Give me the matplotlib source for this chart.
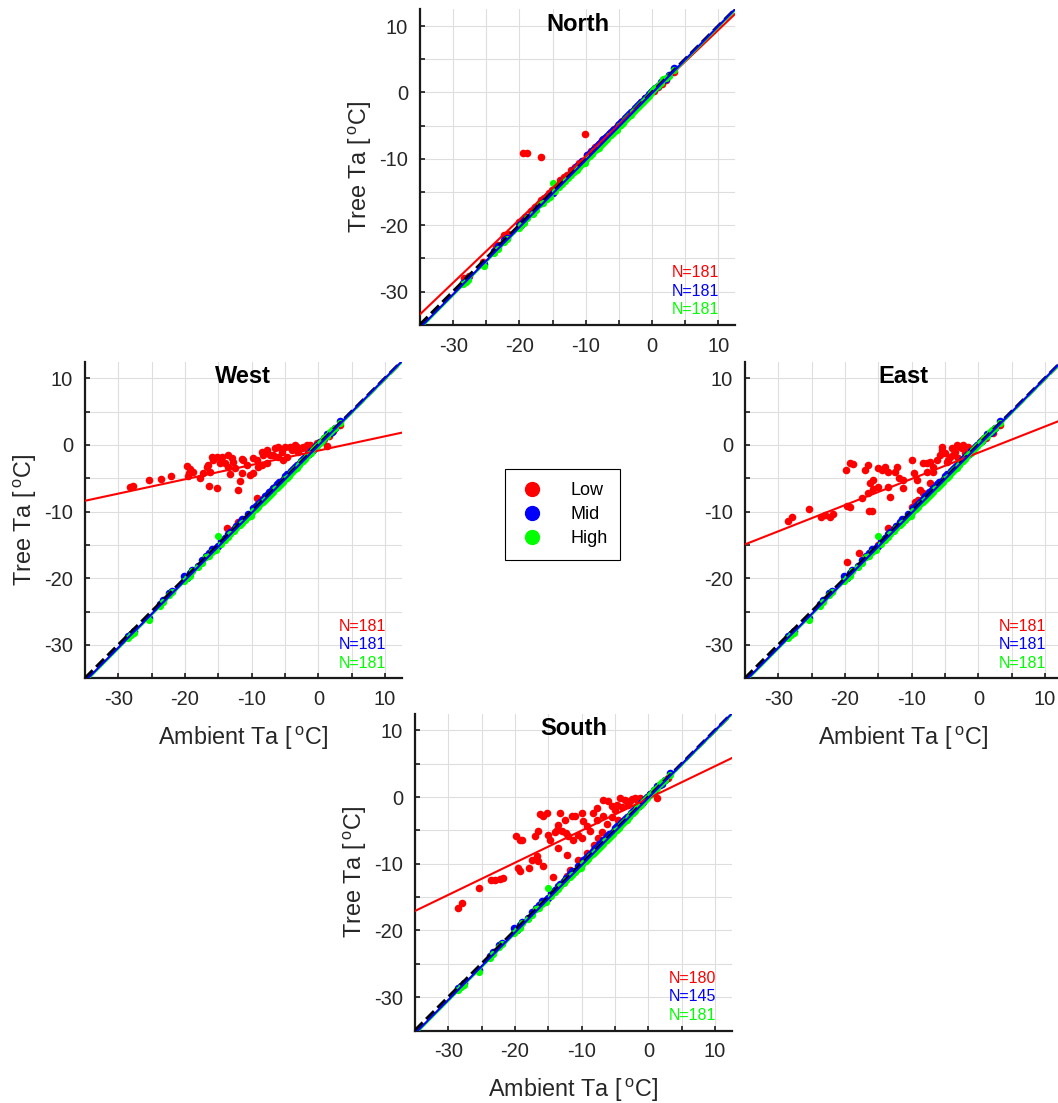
import numpy as np
import matplotlib
matplotlib.use("Agg")
import matplotlib.pyplot as plt
from matplotlib.lines import Line2D
from matplotlib.ticker import MultipleLocator

plt.rcParams['font.family'] = ['Liberation Sans', 'DejaVu Sans']
plt.rcParams['mathtext.fontset'] = 'custom'
plt.rcParams['mathtext.rm'] = 'Liberation Sans'
plt.rcParams['axes.unicode_minus'] = False

# ---------------- data ----------------
series_names = ['Low', 'Mid', 'High']
series_colors = ['#ff0000', '#0000ff', '#00ff00']

ambient = [-28.5, -28.1, -27.7, -25.4, -23.8, -23.3, -22.4, -21.9, -20.1, -19.7,
           -19.3, -18.9, -18.0, -17.5, -16.9, -16.4, -15.9, -15.4, -15.0, -14.6,
           -14.0, -13.6, -13.2, -12.7, -12.3, -11.8, -11.4, -11.0, -10.5, -10.1,
           -9.8, -9.4, -9.0, -8.7, -8.3, -8.0, -7.7, -7.4, -7.1, -6.8,
           -6.5, -6.2, -5.9, -5.6, -5.3, -5.0, -4.7, -4.4, -4.1, -3.8,
           -3.5, -3.2, -2.9, -2.6, -2.3, -2.0, -1.7, -1.4, -1.1, -0.8,
           -0.5, -0.2, 0.2, 0.5, 0.9, 1.3, 1.7, 2.1, 2.5, 3.3]

mid_tree = [-28.7, -28.4, -27.9, -25.9, -23.9, -23.2, -22.2, -21.9, -19.7, -19.9,
            -19.2, -18.7, -18.2, -17.2, -16.6, -16.2, -15.6, -15.4, -15.2, -14.4,
            -13.9, -13.3, -13.0, -12.6, -12.1, -11.6, -11.1, -11.1, -10.4, -10.3,
            -9.5, -9.1, -8.8, -8.5, -8.1, -7.7, -7.5, -7.0, -6.9, -6.5,
            -6.3, -5.9, -5.6, -5.5, -5.2, -4.7, -4.4, -4.3, -3.9, -3.6,
            -3.3, -3.0, -2.8, -2.4, -2.1, -1.8, -1.5, -1.3, -0.9, -0.7,
            -0.3, 0.0, 0.4, 0.6, 1.0, 1.6, 1.8, 2.0, 2.6, 3.6]

high_tree = [-28.9, -28.5, -28.2, -26.2, -24.2, -23.6, -22.5, -22.1, -20.4, -20.0,
             -19.6, -18.9, -18.3, -17.7, -16.8, -16.7, -16.1, -15.7, -13.6, -14.8,
             -14.3, -13.8, -13.4, -12.9, -12.4, -12.0, -11.7, -11.2, -10.8, -10.6,
             -9.9, -9.6, -9.3, -8.9, -8.5, -8.3, -7.9, -7.6, -7.3, -7.0,
             -6.6, -6.4, -6.1, -5.8, -5.6, -5.1, -4.9, -4.6, -4.2, -3.9,
             -3.6, -3.4, -3.0, -2.6, -2.4, -2.1, -1.7, -1.4, -1.2, -0.8,
             -0.5, -0.1, 0.3, 0.6, 1.0, 1.4, 2.0, 2.2, 2.5, 3.3]

north_low = [(-28.3, -27.9), (-28.0, -28.4), (-27.6, -27.6), (-25.5, -25.6), (-23.6, -23.1),
             (-23.2, -23.0), (-22.3, -21.5), (-21.8, -21.4), (-20.0, -19.5), (-19.6, -19.3),
             (-19.1, -18.7), (-18.2, -17.8), (-17.6, -17.2), (-16.8, -16.2), (-16.3, -15.9),
             (-15.6, -15.1), (-15.1, -14.7), (-14.4, -14.1), (-13.9, -13.2), (-13.3, -12.8),
             (-12.8, -12.5), (-12.2, -11.7), (-11.6, -11.2), (-11.0, -10.7), (-10.5, -10.3),
             (-9.8, -9.4), (-9.2, -8.9), (-8.6, -8.2), (-8.0, -7.7), (-7.5, -7.2),
             (-7.0, -6.7), (-6.4, -6.1), (-5.8, -5.5), (-5.2, -4.9), (-4.6, -4.3),
             (-4.0, -3.8), (-3.4, -3.2), (-2.8, -2.6), (-2.2, -2.1), (-1.6, -1.5),
             (-1.0, -0.9), (-0.4, -0.4), (0.3, 0.2), (0.9, 0.8), (1.5, 1.3),
             (2.1, 1.9), (3.3, 3.0), (-19.4, -9.1), (-18.9, -9.1), (-16.7, -9.8),
             (-10.1, -6.3)]

west_low = [(-28.25, -6.35), (-27.85, -6.15), (-25.4, -5.25), (-23.65, -5.15), (-22.15, -4.6),
            (-19.75, -3.15), (-19.25, -3.65), (-19.35, -4.25), (-19.5, -4.65), (-18.75, -4.0),
            (-17.75, -5.0), (-17.25, -4.25), (-16.75, -3.35), (-16.5, -3.0), (-16.45, -6.15),
            (-16.25, -4.0), (-16.0, -1.75), (-15.75, -2.25), (-15.25, -1.75), (-15.15, -6.5),
            (-14.75, -2.65), (-14.5, -1.75), (-14.0, -2.75), (-13.5, -3.25), (-13.5, -1.5),
            (-13.25, -4.35), (-13.0, -2.0), (-12.75, -2.5), (-12.5, -3.5), (-12.1, -6.75),
            (-11.75, -5.35), (-11.5, -4.25), (-11.5, -2.15), (-11.25, -2.25), (-10.75, -3.0),
            (-10.25, -4.5), (-9.75, -2.0), (-9.75, -4.25), (-9.25, -2.25), (-9.0, -3.35),
            (-8.5, -1.0), (-8.5, -3.0), (-8.25, -1.5), (-7.75, -0.75), (-7.75, -2.75),
            (-7.25, -1.5), (-6.75, -1.5), (-6.5, -0.5), (-6.0, -0.25), (-6.0, -1.75),
            (-5.5, -1.0), (-5.25, -2.25), (-5.0, -0.25), (-4.75, -1.75), (-4.25, -0.25),
            (-4.0, -0.75), (-3.5, 0.0), (-3.25, -0.25), (-3.0, -1.0), (-2.5, -0.5),
            (-2.25, -0.25), (-1.75, 0.0), (-1.5, -0.75), (-1.25, 0.0), (-0.75, -0.25),
            (-0.25, 0.25), (0.3, 0.5), (0.9, 0.9), (1.25, -0.1), (1.6, 1.4),
            (2.2, 2.1), (3.3, 3.0), (-9.2, -8.0), (-13.7, -12.5), (-12.0, -11.6)]

east_low = [(-28.5, -11.35), (-27.9, -10.85), (-25.35, -9.65), (-23.6, -10.75), (-23.0, -10.5),
            (-22.25, -10.75), (-21.85, -10.35), (-19.85, -3.75), (-19.25, -2.75), (-18.75, -2.9),
            (-19.65, -9.15), (-19.25, -9.25), (-17.5, -8.0), (-17.0, -3.75), (-16.5, -3.0),
            (-16.25, -5.75), (-15.75, -5.25), (-16.5, -7.25), (-15.75, -6.65), (-15.0, -6.35),
            (-16.35, -9.85), (-16.0, -9.85), (-15.0, -3.5), (-14.5, -3.75), (-14.0, -3.25),
            (-13.5, -4.0), (-13.25, -7.75), (-13.5, -6.25), (-12.5, -4.0), (-12.25, -3.25),
            (-11.85, -5.0), (-11.25, -5.25), (-11.25, -6.5), (-10.0, -2.25), (-9.65, -4.15),
            (-9.25, -5.25), (-8.25, -2.75), (-7.75, -4.0), (-7.25, -2.5), (-6.75, -3.25),
            (-6.25, -2.25), (-5.5, -0.25), (-5.0, -1.25), (-4.5, -2.25), (-4.0, -0.5),
            (-3.25, 0.0), (-2.75, -0.25), (-2.25, 0.0), (-1.75, -0.75), (-3.75, -1.5),
            (-5.75, -1.5), (-8.75, -6.75), (-9.5, -8.5), (-10.0, -9.25), (-13.5, -12.5),
            (-17.85, -16.25), (-19.75, -17.5), (-15.0, -15.0), (-5.5, -0.75), (-4.75, -2.5),
            (-4.25, -1.75), (-3.5, -1.0), (-3.0, -2.0), (-2.5, -0.5), (-2.0, -1.25),
            (-1.5, -0.25), (-7.75, -2.75), (-6.75, -4.0), (-7.25, -5.75), (-8.25, -7.25),
            (-9.0, -8.25), (0.5, 0.8), (1.2, 1.0), (2.2, 1.8), (3.3, 3.0)]

south_low = [(-28.5, -16.65), (-27.9, -15.9), (-25.35, -13.65), (-23.6, -12.4), (-23.0, -12.5),
             (-22.25, -12.3), (-21.85, -12.15), (-19.85, -5.8), (-19.25, -6.4), (-19.5, -10.65),
             (-19.25, -11.15), (-19.0, -6.5), (-17.5, -9.4), (-16.75, -8.9), (-16.5, -9.65),
             (-15.75, -10.4), (-17.85, -10.65), (-17.0, -5.8), (-16.5, -5.15), (-16.25, -2.5),
             (-15.25, -2.4), (-15.75, -2.9), (-15.0, -5.65), (-14.75, -6.4), (-13.5, -4.15),
             (-13.25, -2.4), (-13.75, -4.9), (-13.5, -7.65), (-12.35, -5.4), (-12.25, -8.65),
             (-12.5, -3.4), (-11.5, -2.9), (-13.0, -5.15), (-11.25, -6.4), (-10.5, -5.65),
             (-10.0, -6.15), (-9.75, -3.65), (-9.25, -4.4), (-8.25, -2.4), (-7.75, -1.65),
             (-6.75, -0.4), (-6.0, -0.65), (-5.5, -1.4), (-4.75, -1.15), (-4.25, -0.15),
             (-3.5, -0.4), (-2.75, -0.65), (-2.0, -0.15), (-1.25, -0.15), (-6.75, -2.9),
             (-8.75, -5.15), (-10.0, -2.4), (-7.75, -3.4), (-11.75, -10.9), (-12.25, -11.9),
             (-14.3, -11.95), (-10.6, -9.4), (0.3, 0.4), (1.0, 1.1), (1.3, -0.1),
             (3.0, 2.9), (-5.0, -2.0), (-4.0, -1.5), (-3.0, -1.2), (-2.5, -0.3),
             (-1.5, -0.6), (-5.5, -3.0), (-6.2, -4.0), (-7.0, -5.2), (-7.5, -6.2),
             (-4.5, -3.5), (-9.2, -8.4), (-8.2, -7.2), (-11.0, -2.8), (-12.0, -5.8),
             (-14.0, -5.3)]

# regression lines (slope, intercept) for Low, Mid, High
north_fits = [(0.952, -0.10), (1.010, -0.10), (1.010, -0.25)]
west_fits = [(0.215, -0.85), (1.010, -0.10), (1.010, -0.25)]
east_fits = [(0.393, -1.16), (1.010, -0.10), (1.010, -0.25)]
south_fits = [(0.4825, -0.18), (1.010, -0.10), (1.010, -0.25)]

north_counts = [181, 181, 181]
west_counts = [181, 181, 181]
east_counts = [181, 181, 181]
south_counts = [180, 145, 181]

x_ticks = [-30, -20, -10, 0, 10]
axis_lim = (-35, 12.5)

# ---------------- figure ----------------
W, H = 1058, 1103
fig = plt.figure(figsize=(W / 100, H / 100), dpi=100)


def px_rect(left, top, width, height):
    return [left / W, 1 - (top + height) / H, width / W, height / H]


panels = [
    ('North', px_rect(420, 9.4, 315, 315.4), north_low, north_fits, north_counts, False, True),
    ('West', px_rect(85, 361.6, 316.7, 316.7), west_low, west_fits, west_counts, True, True),
    ('East', px_rect(745, 361.6, 316.7, 316.7), east_low, east_fits, east_counts, True, False),
    ('South', px_rect(415, 713.8, 316.7, 316.7), south_low, south_fits, south_counts, True, True),
]

label_fs = 16.8
tick_fs = 14.5
msize = 30

for name, rect, low, fits, counts, show_xlabel, show_ylabel in panels:
    ax = fig.add_axes(rect)
    lx, ly = zip(*low)
    ax.scatter(lx, ly, s=msize, color=series_colors[0], linewidths=0, zorder=2)
    ax.scatter(ambient, mid_tree, s=msize, color=series_colors[1], linewidths=0, zorder=2)
    ax.scatter(ambient, high_tree, s=msize * 0.9, color=series_colors[2], linewidths=0, zorder=2)

    xl = np.array(axis_lim)
    ax.plot(xl, xl, color='black', lw=2.5, ls=(0, (3.2, 1.4)), zorder=3)
    for (m, b), c in zip([fits[0], fits[2], fits[1]],
                         [series_colors[0], series_colors[2], series_colors[1]]):
        ax.plot(xl, m * xl + b, color=c, lw=1.5, zorder=4)

    ax.set_xlim(axis_lim)
    ax.set_ylim(axis_lim)
    ax.set_xticks(x_ticks)
    ax.set_yticks(x_ticks)
    ax.xaxis.set_minor_locator(MultipleLocator(5))
    ax.yaxis.set_minor_locator(MultipleLocator(5))
    ax.grid(True, which='both', color='#dedede', lw=0.8, zorder=0)
    ax.set_axisbelow(True)
    for sp in ['top', 'right']:
        ax.spines[sp].set_visible(False)
    for sp in ['left', 'bottom']:
        ax.spines[sp].set_linewidth(1.6)
        ax.spines[sp].set_color('#1a1a1a')
    ax.tick_params(which='both', direction='in', length=3.5, width=1.2,
                   labelsize=tick_fs, pad=8.5, colors='#1a1a1a', labelcolor='#262626')

    if show_xlabel:
        ax.set_xlabel('Ambient Ta [$\\,^{\\mathrm{o}}$C]', fontsize=label_fs, labelpad=11, color='#262626')
    if show_ylabel:
        ax.set_ylabel('Tree Ta [$\\,^{\\mathrm{o}}$C]', fontsize=label_fs, labelpad=4, color='#262626')

    ax.text(0.5, 0.953, name, transform=ax.transAxes, ha='center', va='center',
            fontsize=17, fontweight='bold', zorder=6)
    for i, (cnt, c) in enumerate(zip(counts, series_colors)):
        ax.text(0.95, 0.165 - i * 0.059, f'N={cnt}', transform=ax.transAxes,
                ha='right', va='center', fontsize=11.5, color=c, zorder=6)

handles = [Line2D([], [], marker='o', ls='', color=c, markersize=10) for c in series_colors]
leg = fig.legend(handles, series_names, loc='center',
                 bbox_to_anchor=(562.8 / W, 1 - 514.7 / H),
                 fontsize=13, frameon=True, fancybox=False, edgecolor='black',
                 framealpha=1, handlelength=1.6, handletextpad=1.3,
                 labelspacing=0.4, borderpad=0.7, borderaxespad=0)
leg.get_frame().set_linewidth(0.8)

fig.savefig('out.png', dpi=100)
